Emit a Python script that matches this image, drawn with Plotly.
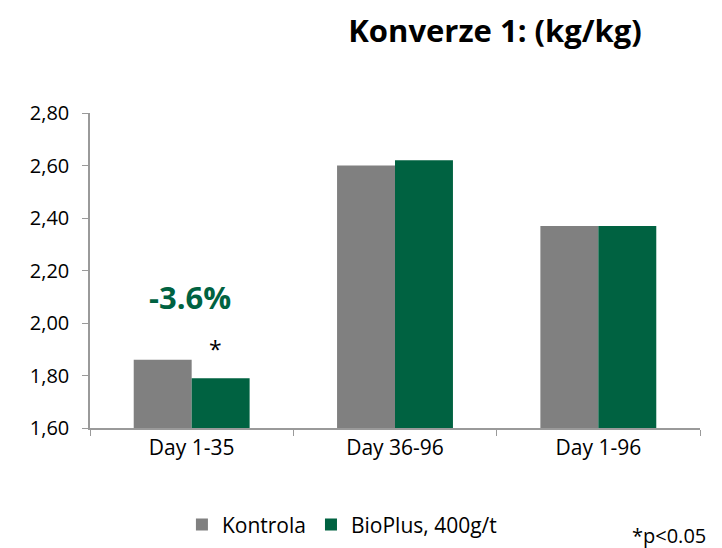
import plotly.graph_objects as go

categories = ["Day 1-35", "Day 36-96", "Day 1-96"]
kontrola = [1.86, 2.60, 2.37]
bioplus = [1.79, 2.62, 2.37]
series_names = ["Kontrola", "BioPlus, 400g/t"]
y_ticks = [1.60, 1.80, 2.00, 2.20, 2.40, 2.60, 2.80]
title_text = "Konverze 1: (kg/kg)"
diff_label = "-3.6%"
sig_label = "*"
footnote = "*p<0.05"

GRAY = "#808080"
GREEN = "#006241"
FONT = "'Open Sans', sans-serif"

fig = go.Figure()
fig.add_trace(go.Bar(x=categories, y=kontrola, name=series_names[0],
                     marker=dict(color=GRAY, line=dict(width=0))))
fig.add_trace(go.Bar(x=categories, y=bioplus, name=series_names[1],
                     marker=dict(color=GREEN, line=dict(width=0))))

fig.add_annotation(x=categories[0], y=bioplus[0], text=sig_label, showarrow=False,
                   xshift=24, yshift=29, font=dict(size=23, color="black", family=FONT))
fig.add_annotation(x=categories[0], y=bioplus[0], text="<b>" + diff_label + "</b>", showarrow=False,
                   xshift=-2, yshift=81, font=dict(size=31, color=GREEN, family=FONT))
fig.add_annotation(x=1.0, y=-0.34, xref="paper", yref="paper", text=footnote, showarrow=False,
                   xanchor="right", yanchor="middle", xshift=8,
                   font=dict(size=20, color="black", family=FONT))

# page has an 8px body margin, so the figure is 8px smaller than the window
fig.update_layout(
    width=714, height=540,
    separators=",.",
    paper_bgcolor="white", plot_bgcolor="white",
    margin=dict(l=82, r=22, t=105, b=120, autoexpand=False),
    barmode="group", bargap=0.43, bargroupgap=0,
    font=dict(family=FONT, size=21, color="black"),
    title=dict(text="<b>" + title_text + "</b>", x=0.664, xanchor="center", xref="paper",
               y=0.958, yanchor="middle", font=dict(size=31, color="black", family=FONT)),
    legend=dict(orientation="h", x=0.413, xanchor="center", y=0.043, yanchor="middle",
                yref="container", font=dict(size=21, color="black", family=FONT),
                itemwidth=30, traceorder="normal"),
    showlegend=True,
)
fig.update_yaxes(range=[1.60, 2.80], tickvals=y_ticks, tickformat=".2f", automargin=False,
                 tickfont=dict(size=20),
                 showgrid=False, zeroline=False, showline=True, linecolor="#9a9a9a",
                 linewidth=1.5, ticks="outside", ticklen=6, tickcolor="#9a9a9a", ticklabelstandoff=9)
fig.update_xaxes(showgrid=False, showline=True, linecolor="#9a9a9a", linewidth=1.5, automargin=False,
                 ticks="outside", tickson="boundaries", ticklen=6, tickcolor="#9a9a9a")

fig.write_html("out.html")
